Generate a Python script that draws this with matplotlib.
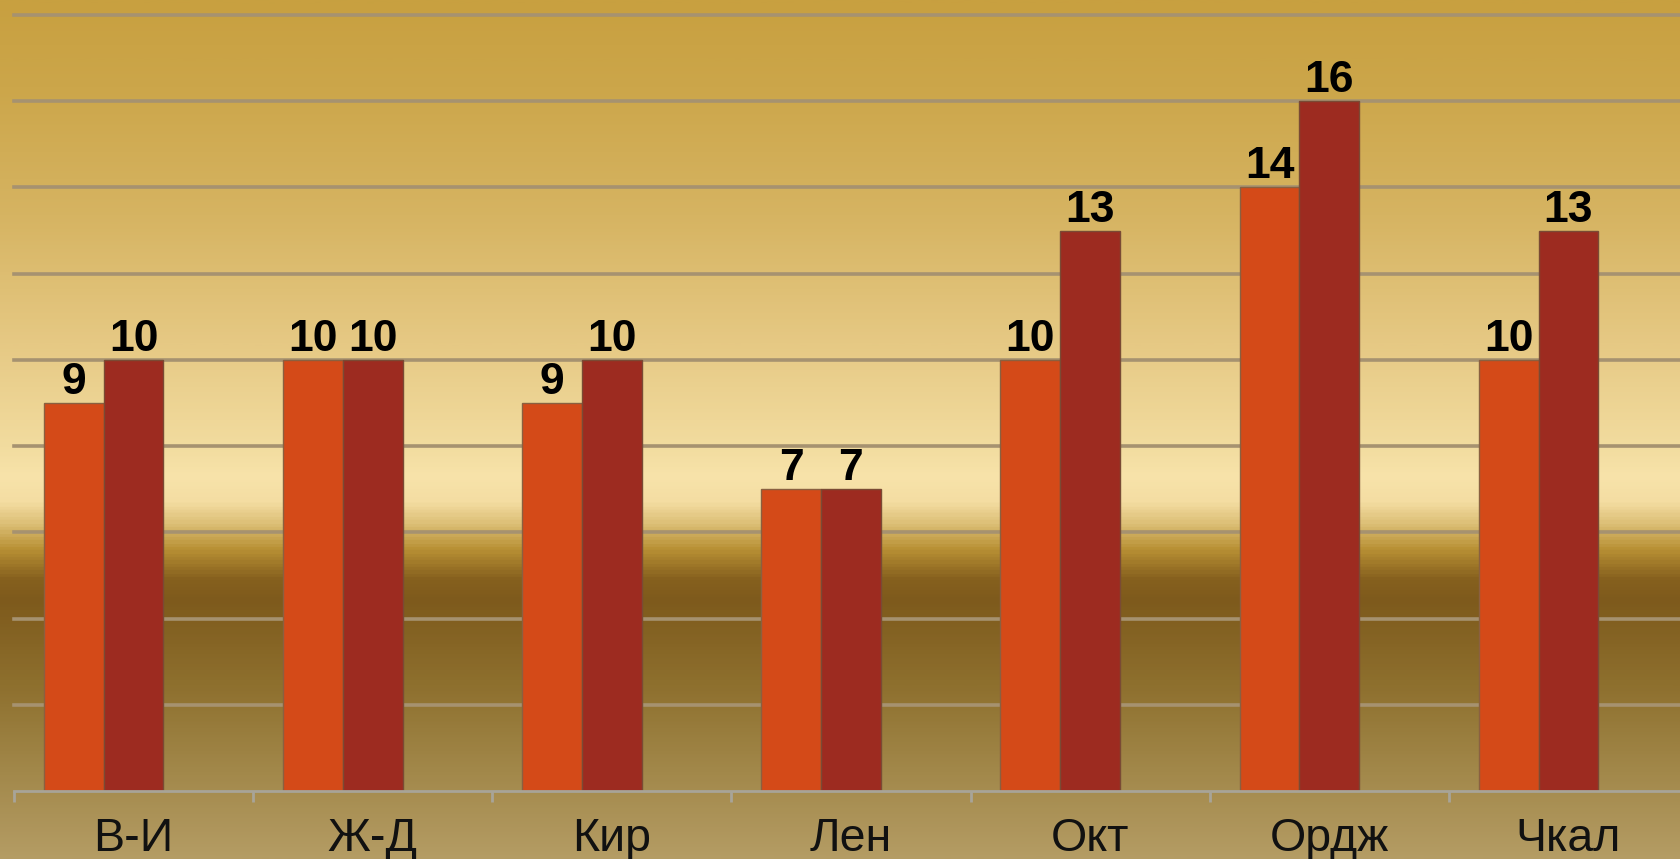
import numpy as np
import matplotlib
matplotlib.use("Agg")
import matplotlib.pyplot as plt
from matplotlib.colors import LinearSegmentedColormap

# Data
categories = ["В-И", "Ж-Д", "Кир", "Лен", "Окт", "Ордж", "Чкал"]
series_a = [9, 10, 9, 7, 10, 14, 10]
series_b = [10, 10, 10, 7, 13, 16, 13]

W, H, DPI = 1680, 859, 100
fig = plt.figure(figsize=(W / DPI, H / DPI), dpi=DPI)

# Vertical background gradient (gold top, cream band, dark bronze band, lighter bottom)
stops = [
    (0.00, "#c8a040"),
    (0.10, "#cca64a"),
    (0.25, "#d6b462"),
    (0.40, "#e6c984"),
    (0.52, "#f2dc9f"),
    (0.555, "#f8e3aa"),
    (0.585, "#f4dda2"),
    (0.61, "#dcbf76"),
    (0.64, "#b89034"),
    (0.675, "#86601e"),
    (0.70, "#7e5a1c"),
    (0.80, "#8e702e"),
    (0.90, "#a2884a"),
    (1.00, "#b49c64"),
]
bg_cmap = LinearSegmentedColormap.from_list("bg", stops)
bg = fig.add_axes([0, 0, 1, 1], zorder=0)
grad = np.linspace(0, 1, 600).reshape(-1, 1)
bg.imshow(grad, aspect="auto", cmap=bg_cmap, extent=[0, 1, 0, 1], origin="upper")
bg.set_axis_off()

# Plot area
left_px, right_px, top_px, base_px = 14, 1688, 15, 791
ax = fig.add_axes([left_px / W, 1 - base_px / H,
                   (right_px - left_px) / W, (base_px - top_px) / H], zorder=1)
ax.patch.set_alpha(0)

n = len(categories)
x = np.arange(n)
bw = 0.25

ax.set_xlim(-0.5, n - 0.5)
ax.set_ylim(0, 18)

# Horizontal gridlines
for v in range(2, 19, 2):
    ax.axhline(v, color="#a69270", lw=2.6, zorder=1, clip_on=False)

ax.bar(x - 0.25, series_a, width=bw, color="#d44a18", edgecolor="#8a6040",
       linewidth=1, zorder=3)
ax.bar(x, series_b, width=bw, color="#9d2b20", edgecolor="#7a4a34",
       linewidth=1, zorder=3)

label_font = dict(family=["Liberation Sans", "DejaVu Sans"], fontsize=32,
                  fontweight="bold", color="black")
for xi, va_, vb_ in zip(x, series_a, series_b):
    ax.annotate(str(va_), (xi - 0.25, va_), xytext=(0, 9),
                textcoords="offset pixels", ha="center", va="baseline",
                zorder=5, **label_font)
    ax.annotate(str(vb_), (xi, vb_), xytext=(0, 9),
                textcoords="offset pixels", ha="center", va="baseline",
                zorder=5, **label_font)

# Axes styling
for s in ["top", "right", "left"]:
    ax.spines[s].set_visible(False)
ax.spines["bottom"].set_color("#a8a498")
ax.spines["bottom"].set_linewidth(2)
ax.spines["bottom"].set_zorder(4)
ax.set_yticks([])

ax.set_xticks(np.arange(-0.5, n, 1.0))
ax.set_xticklabels([])
ax.tick_params(axis="x", which="major", direction="out", length=8, width=2,
               color="#a8a498")
ax.set_xticks(x, minor=True)
ax.set_xticklabels(categories, minor=True,
                   fontdict=dict(family=["Liberation Sans", "DejaVu Sans"],
                                 fontsize=33.5, color="#111111"))
ax.tick_params(axis="x", which="minor", length=0, pad=19)

fig.savefig("out.png", dpi=DPI)
